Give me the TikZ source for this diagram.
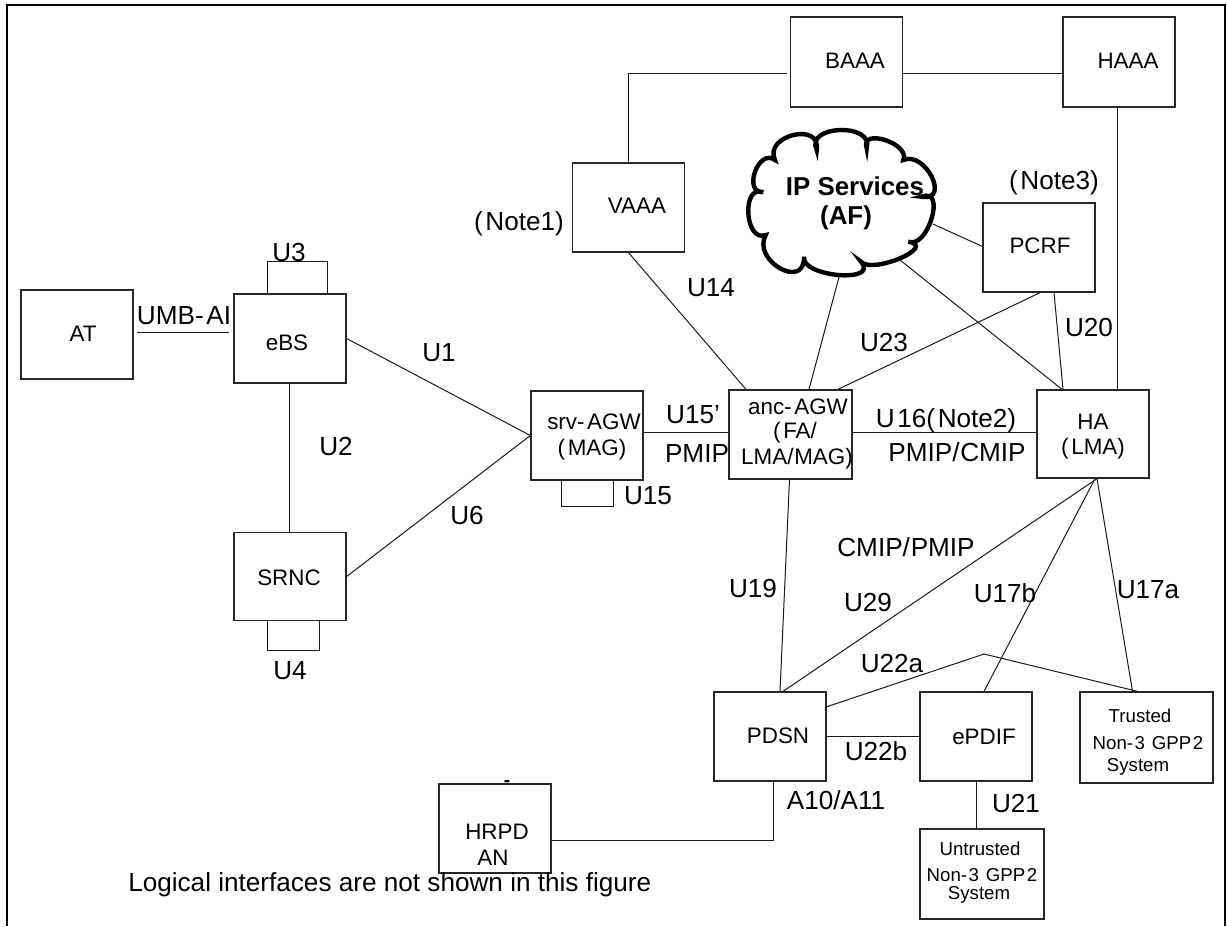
\documentclass[tikz,border=0pt]{standalone}
\usepackage{fontspec}
\setmainfont{Liberation Sans}
\def\gp{\kern2pt\relax}
\def\gq{\kern0.6pt\relax}
\def\gr{\kern1.2pt\relax}
\newcommand\cb[6]{.. controls ({#1+4/3*(#3-(#1+#5)/2)+0.2*(#1-#5)},{#2+4/3*(#4-(#2+#6)/2)+0.2*(#2-#6)}) and ({#5+4/3*(#3-(#1+#5)/2)+0.2*(#5-#1)},{#6+4/3*(#4-(#2+#6)/2)+0.2*(#6-#2)}) .. (#5,#6)}
\def\px{0.75pt}
\newcommand\bx[5]{\node[boxn,minimum width=#4*\px,minimum height=#5*\px] (#1) at (#2,#3) {};}
\tikzset{
  boxn/.style={draw=black!85,line width=1.3*\px,inner sep=0pt,fill=none},
  conn/.style={draw=black!90,line width=1*\px},
  lbl/.style={inner sep=0pt,font=\fontsize{19.6pt}{22pt}\selectfont},
  bt/.style={inner sep=0pt,font=\fontsize{16.8pt}{20pt}\selectfont},
  st/.style={inner sep=0pt,font=\fontsize{14pt}{16pt}\selectfont},
  cloudt/.style={inner sep=0pt,font=\fontsize{19.4pt}{22pt}\selectfont\bfseries},
}
\begin{document}
\begin{tikzpicture}[x=0.75pt,y=-0.75pt]
\useasboundingbox (0,0) rectangle (1227,926);
% frame
\coordinate (fBL) at (7,926); \coordinate (fTL) at (7,5); \coordinate (fTR) at (1225,5); \coordinate (fBR) at (1225,926);
\draw[line width=2.4*\px] (fBL) -- (fTL) -- (fTR) -- (fBR);
% boxes
\bx{AT}{77}{334.5}{112}{89}
\bx{eBS}{290}{338.5}{112}{89}
\bx{SRNC}{290}{576.5}{112}{88}
\bx{srv}{587}{435.5}{112}{89}
\bx{anc}{790.5}{434.5}{123}{89}
\bx{HA}{1093}{434}{112}{88}
\bx{VAAA}{628.5}{207.5}{112}{89}
\bx{BAAA}{846.5}{62}{112}{90}
\bx{HAAA}{1119}{62}{112}{90}
\bx{PCRF}{1039}{247.5}{112}{89}
\bx{PDSN}{770}{736.5}{112}{89}
\bx{ePDIF}{976}{736.5}{112}{89}
\bx{Trusted}{1146.5}{737.5}{133}{91}
\bx{Untrusted}{982}{874}{124}{90}
\bx{HRPD}{495}{828.5}{112}{89}
% cloud
\draw[line width=4.4*\px,line join=miter]
 (775,160) \cb{775}{160}{793.3}{135}{816.7}{150}
 \cb{816.7}{150}{840}{130}{866.7}{148.3}
 \cb{866.7}{148.3}{885}{140}{903.3}{160}
 \cb{903.3}{160}{931.7}{176.7}{921.7}{196.7}
 \cb{921.7}{196.7}{931.7}{218.3}{908.3}{241.7}
 \cb{908.3}{241.7}{900}{258.3}{861}{261.7}
 \cb{861}{261.7}{838.3}{275}{804}{256.7}
 \cb{804}{256.7}{780}{268.3}{765.7}{235}
 \cb{765.7}{235}{748.3}{213.3}{763.3}{192.3}
 \cb{763.3}{192.3}{755}{171.7}{775}{160} -- cycle;
\coordinate (cloudS) at (839,277);
\coordinate (cloudE) at (933,224);
\coordinate (cloudSE) at (900,260);
\node[cloudt] (cl1) at (855,186) {IP Services};
\node[cloudt] (cl2) at (846,218) {(AF)};
% connectors
\coordinate (v22) at (984,654);
\coordinate (p22) at (826,707);
\coordinate (umbL) at (137,332); \coordinate (umbR) at (229,332);
\draw[conn] (umbL) -- (umbR);
\draw[conn] ([shift={(-23,0)}]eBS.north) |- ([shift={(37,-32)}]eBS.north) -- ([shift={(37,0)}]eBS.north);
\draw[conn] ([shift={(-1,0)}]eBS.south) -- ([shift={(-1,0)}]SRNC.north);
\draw[conn] (eBS.east) -- (srv.west);
\draw[conn] (SRNC.east) -- (srv.west);
\draw[conn] ([shift={(-23,0)}]SRNC.south) |- ([shift={(29,29)}]SRNC.south) -- ([shift={(29,0)}]SRNC.south);
\draw[conn] ([shift={(-26,0)}]srv.south) |- ([shift={(26,26)}]srv.south) -- ([shift={(26,0)}]srv.south);
\draw[conn] ([shift={(0,-3.5)}]srv.east) -- ([shift={(0,-2.5)}]anc.west);
\draw[conn] ([shift={(0,-2.5)}]anc.east) -- ([shift={(0,-2)}]HA.west);
\draw[conn] (VAAA.north) |- ([shift={(-3,11)}]BAAA.west);
\draw[conn] ([shift={(0,11)}]BAAA.east) -- ([shift={(0,11)}]HAAA.west);
\draw[conn] ([shift={(-2,0)}]HAAA.south) -- ([shift={(24,0)}]HA.north);
\draw[conn] (VAAA.south) -- ([shift={(-44.5,0)}]anc.north);
\draw[conn] (cloudS) -- ([shift={(18.5,0)}]anc.north);
\draw[conn] ([shift={(1,0)}]PCRF.south) -- ([shift={(47.5,0)}]anc.north);
\draw[conn] (cloudE) -- ([shift={(0,-1)}]PCRF.west);
\draw[conn] (cloudSE) -- ([shift={(-31,0)}]HA.north);
\draw[conn] ([shift={(15,0)}]PCRF.south) -- ([shift={(-30,0)}]HA.north);
\draw[conn] ([shift={(-1,0)}]anc.south) -- ([shift={(10,0)}]PDSN.north);
\draw[conn] ([shift={(4,0)}]HA.south) -- ([shift={(13,0)}]PDSN.north);
\draw[conn] ([shift={(2,0)}]HA.south) -- ([shift={(8,0)}]ePDIF.north);
\draw[conn] ([shift={(4,0)}]HA.south) -- ([shift={(-14,0)}]Trusted.north);
\draw[conn] (p22) -- (v22) -- ([shift={(-9,0)}]Trusted.north);
\draw[conn] (PDSN.east) -- (ePDIF.west);
\draw[conn] (ePDIF.south) -- ([shift={(-6,0)}]Untrusted.north);
\draw[conn] ([shift={(3,0)}]PDSN.south) |- ([shift={(0,11.5)}]HRPD.east);
% box texts
\node[bt] (tAT) at (83,334) {AT};
\node[bt] (teBS) at (287,343) {eBS};
\node[bt] (tSRNC) at (289,578) {SRNC};
\node[bt] (tsrv1) at (594,422) {srv-\gp AGW};
\node[bt] (tsrv2) at (592,450) {(\gp MAG)};
\node[bt] (tanc1) at (798,407) {anc-\gp AGW};
\node[bt] (tanc2) at (795,433) {(\gp FA/};
\node[bt] (tanc3) at (797,459) {LMA/\gq MAG)};
\node[bt] (tHA1) at (1093,422) {HA};
\node[bt] (tHA2) at (1093,449) {(\gp LMA)};
\node[bt] (tVAAA) at (637,206) {VAAA};
\node[bt] (tBAAA) at (855,61) {BAAA};
\node[bt] (tHAAA) at (1128,61) {HAAA};
\node[bt] (tPCRF) at (1040,246) {PCRF};
\node[bt] (tPDSN) at (778,736) {PDSN};
\node[bt] (tePDIF) at (984,737) {ePDIF};
\node[st] (tT1) at (1140,716) {Trusted};
\node[st] (tT2) at (1148,743) {Non-\gr 3 \gr GPP\gr 2};
\node[st] (tT3) at (1138,767) {System};
\node[st] (tU1) at (980,849) {Untrusted};
\node[st] (tU2) at (982,875) {Non-\gr 3 \gr GPP\gr 2};
\node[st] (tU3) at (979,895) {System};
\node[bt] (tH1) at (497,832) {HRPD};
\node[bt] (tH2) at (493,858) {AN};
\node[st] (tHm) at (507,784) {\textbf{-}};
% labels
\node[lbl] (lUMB) at (184,316) {UMB-\gp AI};
\node[lbl] at (289,252) {U3};
\node[lbl] at (439,353) {U1};
\node[lbl] at (336,446) {U2};
\node[lbl] at (467,515) {U6};
\node[lbl] at (290,671) {U4};
\node[lbl] at (711,288) {U14};
\node[lbl] at (693,415) {U15'};
\node[lbl] at (697,453) {PMIP};
\node[lbl] at (648,496) {U15};
\node[lbl] at (884,342) {U23};
\node[lbl] at (1089,327) {U20};
\node[lbl] at (946,421) {U\gp 16(\gp Note2)};
\node[lbl] at (957,452) {PMIP/\gq CMIP};
\node[lbl] at (519,224) {(\gp Note1)};
\node[lbl] at (1054,183) {(\gp Note3)};
\node[lbl] at (906,547) {CMIP/\gq PMIP};
\node[lbl] at (753,588) {U19};
\node[lbl] at (868,602) {U29};
\node[lbl] at (1005,593) {U17b};
\node[lbl] at (1148,590) {U17a};
\node[lbl] at (892,663) {U22a};
\node[lbl] at (876,751) {U22b};
\node[lbl] at (836,800) {A10/A11};
\node[lbl] at (1016,803) {U21};
\node[lbl,anchor=west] (note) at (128,885) {Logical interfaces are not shown in this figure};
\end{tikzpicture}
\end{document}
